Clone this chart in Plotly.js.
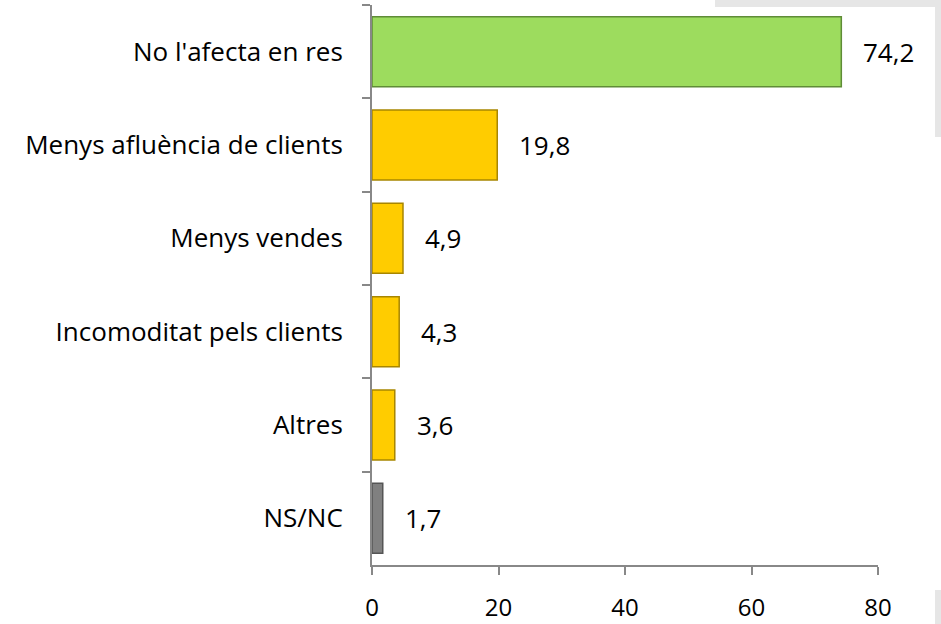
<!DOCTYPE html>
<html>
<head>
<meta charset="utf-8">
<script src="https://cdn.plot.ly/plotly-3.0.1.min.js"></script>
<style>html,body{margin:0;padding:0;background:#fff;}#chart{width:941px;height:624px;}</style>
</head>
<body>
<div id="chart"></div>
<script>
const categories = ["No l'afecta en res", "Menys afluència de clients", "Menys vendes", "Incomoditat pels clients", "Altres", "NS/NC"];
const values = [74.2, 19.8, 4.9, 4.3, 3.6, 1.7];
const barColors = ["#9ddc5e", "#ffcc00", "#ffcc00", "#ffcc00", "#ffcc00", "#808080"];
const edgeColors = ["#5f8c37", "#a88600", "#a88600", "#a88600", "#a88600", "#555555"];
const xTicks = [0, 20, 40, 60, 80];

const fmt = v => v.toFixed(1).replace('.', ',');

const trace = {
  type: 'bar',
  orientation: 'h',
  y: categories,
  x: values,
  marker: { color: barColors, line: { color: edgeColors, width: 1.5 } },
  hoverinfo: 'none'
};

const FONT = 'Open Sans, sans-serif';
const annotations = values.map((v, i) => ({
  x: v, y: categories[i], xref: 'x', yref: 'y',
  text: fmt(v), showarrow: false, xanchor: 'left', xshift: 20,
  font: { family: FONT, size: 26, color: '#000' }
}));

const L = 372, R = 878, T = 5, B = 565;
const px = p => (p - L) / (R - L);
const py = p => (B - p) / (B - T);
const grey = '#e6e6e6';
const shapes = [
  { type: 'rect', xref: 'paper', yref: 'paper', x0: px(715), x1: px(941), y0: py(7), y1: py(0), fillcolor: grey, line: { width: 0 }, layer: 'below' },
  { type: 'rect', xref: 'paper', yref: 'paper', x0: px(935), x1: px(941), y0: py(137), y1: py(0), fillcolor: grey, line: { width: 0 }, layer: 'below' },
  { type: 'rect', xref: 'paper', yref: 'paper', x0: px(935), x1: px(941), y0: py(624), y1: py(590), fillcolor: grey, line: { width: 0 }, layer: 'below' }
];

const layout = {
  width: 941, height: 624,
  margin: { l: L, r: 941 - R, t: T, b: 624 - B },
  paper_bgcolor: '#fff', plot_bgcolor: '#fff',
  bargap: 0.25,
  showlegend: false,
  font: { family: FONT, size: 26, color: '#000' },
  xaxis: {
    range: [0, 80], tickvals: xTicks, ticktext: xTicks.map(String),
    tickfont: { family: FONT, size: 24, color: '#000' },
    showgrid: false, zeroline: false, showline: true, linecolor: '#888', linewidth: 2,
    ticks: 'outside', ticklen: 8, tickwidth: 2, tickcolor: '#888',
    ticklabelstandoff: 12, fixedrange: true
  },
  yaxis: {
    type: 'category', autorange: 'reversed',
    showgrid: false, zeroline: false, showline: true, linecolor: '#888', linewidth: 2,
    ticks: 'outside', ticklen: 8, tickwidth: 2, tickcolor: '#888', tickson: 'boundaries',
    ticklabelstandoff: 22, fixedrange: true
  },
  annotations: annotations,
  shapes: shapes
};

Plotly.newPlot('chart', [trace], layout, { displayModeBar: false, staticPlot: true });
</script>
</body>
</html>
